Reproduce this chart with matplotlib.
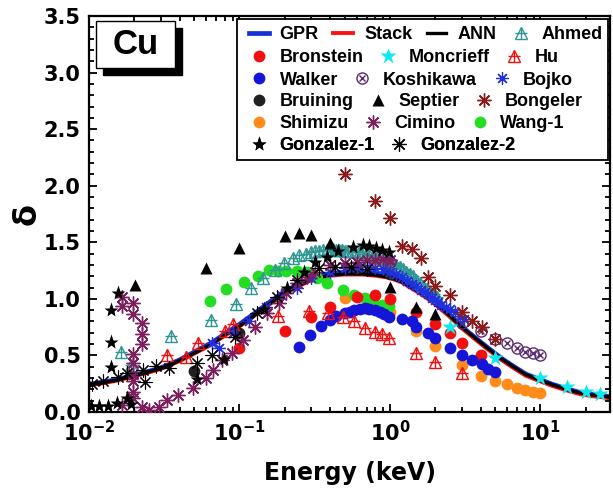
import matplotlib
matplotlib.use("Agg")
import matplotlib.pyplot as plt
from matplotlib.patches import Rectangle
from matplotlib.ticker import FixedLocator, FixedFormatter, MultipleLocator, LogLocator, NullFormatter

plt.rcParams['font.family'] = ['Liberation Sans', 'DejaVu Sans']
plt.rcParams['font.weight'] = 'bold'
plt.rcParams['mathtext.fontset'] = 'dejavusans'
plt.rcParams['mathtext.default'] = 'bf'

# model curves (energy in keV, SEY)
model_E = [0.01, 0.0125, 0.015, 0.02, 0.025, 0.03, 0.04, 0.05, 0.065, 0.08, 0.1, 0.13, 0.16,
           0.2, 0.25, 0.3, 0.4, 0.5, 0.65, 0.8, 1.0, 1.2, 1.4, 1.7, 2.0, 2.5, 3.0, 3.7, 4.4,
           5.5, 6.6, 8.0, 10, 12, 15, 18, 22, 26, 29]
ann_d = [0.24, 0.26, 0.28, 0.32, 0.355, 0.385, 0.455, 0.52, 0.60, 0.68, 0.76, 0.87, 0.96,
         1.05, 1.12, 1.17, 1.21, 1.22, 1.22, 1.21, 1.19, 1.15, 1.10, 1.03, 0.96, 0.85, 0.75,
         0.65, 0.57, 0.47, 0.40, 0.33, 0.28, 0.24, 0.20, 0.17, 0.15, 0.14, 0.13]
gpr_d = [0.245, 0.265, 0.285, 0.325, 0.36, 0.39, 0.46, 0.53, 0.61, 0.69, 0.775, 0.885, 0.975,
         1.065, 1.135, 1.185, 1.225, 1.235, 1.235, 1.225, 1.205, 1.165, 1.115, 1.04, 0.97,
         0.86, 0.755, 0.655, 0.575, 0.475, 0.405, 0.335, 0.285, 0.245, 0.205, 0.175, 0.155,
         0.145, 0.135]
stack_d = [0.235, 0.255, 0.275, 0.315, 0.35, 0.38, 0.45, 0.515, 0.595, 0.675, 0.755, 0.865,
           0.955, 1.045, 1.115, 1.165, 1.205, 1.215, 1.215, 1.205, 1.185, 1.145, 1.09, 1.02,
           0.95, 0.84, 0.74, 0.64, 0.56, 0.46, 0.39, 0.32, 0.27, 0.23, 0.19, 0.16, 0.14,
           0.13, 0.12]

# experimental data
ahmed_E = [0.0163, 0.019, 0.035, 0.0645, 0.0946, 0.119, 0.143, 0.171, 0.197, 0.226, 0.25,
           0.275, 0.30, 0.32, 0.34, 0.36, 0.38, 0.40, 0.42, 0.44, 0.46, 0.48, 0.50, 0.53,
           0.56, 0.59, 0.62, 0.65, 0.69, 0.73, 0.77, 0.81, 0.85, 0.90, 0.95, 1.0, 1.05, 1.1,
           1.16, 1.22, 1.28, 1.35, 1.42, 1.5, 1.58, 1.66, 1.75, 1.85, 1.95, 2.05]
ahmed_d = [0.53, 0.415, 0.67, 0.81, 0.955, 1.10, 1.18, 1.255, 1.32, 1.36, 1.39,
           1.40, 1.41, 1.42, 1.42, 1.43, 1.43, 1.43, 1.44, 1.43, 1.43, 1.43, 1.42, 1.42,
           1.42, 1.41, 1.41, 1.40, 1.40, 1.39, 1.38, 1.37, 1.36, 1.35, 1.34, 1.33, 1.32, 1.30,
           1.28, 1.26, 1.24, 1.22, 1.20, 1.17, 1.14, 1.11, 1.09, 1.06, 1.04, 1.02]

bronstein_E = [0.1, 0.2, 0.3, 0.4, 0.6, 0.8, 1.0, 1.5, 2.0, 2.5, 3.0, 4.0]
bronstein_d = [0.57, 0.72, 0.84, 0.93, 1.02, 1.03, 1.00, 0.88, 0.78, 0.70, 0.61, 0.50]

moncrieff_E = [2.5, 5, 10, 15, 20, 25]
moncrieff_d = [0.75, 0.48, 0.30, 0.22, 0.175, 0.16]

hu_E = [0.033, 0.044, 0.053, 0.080, 0.090, 0.18, 0.29, 0.39, 0.49, 0.58, 0.68, 0.79,
        0.89, 0.99, 1.5, 2.0, 3.0]
hu_d = [0.50, 0.49, 0.61, 0.72, 0.78, 0.85, 0.89, 0.875, 0.84, 0.80, 0.74, 0.71,
        0.69, 0.65, 0.52, 0.44, 0.345]

walker_E = [0.25, 0.295, 0.35, 0.40, 0.44, 0.50, 0.54, 0.58, 0.63, 0.68, 0.73, 0.79, 0.86,
            0.92, 0.99, 1.2, 1.4, 1.5, 1.8, 2.0, 2.5, 3.0, 3.5, 4.1, 4.5, 5.0]
walker_d = [0.575, 0.68, 0.76, 0.81, 0.85, 0.875, 0.88, 0.90, 0.91, 0.92, 0.91, 0.90, 0.885,
            0.87, 0.84, 0.82, 0.80, 0.75, 0.70, 0.65, 0.57, 0.50, 0.46, 0.42, 0.38, 0.35]

koshikawa_E = [1.0, 3.0, 4.0, 5.0, 6.0, 7.0, 7.9, 8.9, 9.9]
koshikawa_d = [1.33, 0.79, 0.715, 0.645, 0.61, 0.565, 0.53, 0.52, 0.50]

bojko_E = [0.066, 0.073, 0.09, 0.115, 0.15, 0.19, 0.24, 0.3, 0.4, 0.5, 0.6, 0.7, 0.8, 0.9,
           1.0, 1.1, 1.2, 1.3, 1.4, 1.5, 1.6, 1.7, 1.8, 1.9, 2.0, 2.1, 2.2, 2.35, 2.5, 2.7,
           2.9, 3.1]
bojko_d = [0.61, 0.565, 0.70, 0.80, 0.93, 1.03, 1.10, 1.18, 1.24, 1.27, 1.28, 1.28, 1.27,
           1.26, 1.24, 1.22, 1.19, 1.16, 1.13, 1.11, 1.08, 1.06, 1.04, 1.01, 0.99, 0.97,
           0.95, 0.93, 0.91, 0.88, 0.85, 0.82]

bruining_E = [0.05, 0.1, 0.3, 0.6, 1.0]
bruining_d = [0.36, 0.70, 1.22, 1.27, 1.22]

septier_E = [0.0202, 0.06, 0.10, 0.20, 0.247, 0.30, 0.40, 1.0, 1.5, 2.0]
septier_d = [1.12, 1.27, 1.45, 1.555, 1.58, 1.565, 1.49, 1.105, 0.93, 0.87]

bongeler_E = [0.5, 0.8, 1.0, 1.2, 1.4, 1.6, 1.8, 2.0, 2.5, 3.0, 3.5, 4.1, 5.0]
bongeler_d = [2.10, 1.865, 1.715, 1.47, 1.44, 1.36, 1.19, 1.11, 1.03, 0.885, 0.80, 0.75, 0.645]

shimizu_E = [0.5, 1.0, 1.5, 2.0, 3.0, 4.0, 5.0, 6.0, 7.0, 7.9, 8.9, 9.9]
shimizu_d = [1.01, 0.885, 0.72, 0.58, 0.415, 0.32, 0.27, 0.245, 0.21, 0.195, 0.18, 0.165]

cimino_E = [0.0165, 0.0165, 0.0196, 0.0196, 0.0225, 0.0225, 0.0225, 0.0196, 0.0196, 0.0196,
            0.0196, 0.0196, 0.0196, 0.0165, 0.0225, 0.025, 0.029, 0.033, 0.039, 0.049,
            0.060, 0.067, 0.077, 0.089, 0.105, 0.126, 0.152, 0.182, 0.205, 0.24, 0.28,
            0.32, 0.40, 0.5, 0.6, 0.7, 0.8, 0.9, 1.0]
cimino_d = [1.02, 0.94, 0.96, 0.87, 0.79, 0.69, 0.60, 0.51, 0.43, 0.34,
            0.27, 0.18, 0.12, 0.06, 0.045, 0.02, 0.045, 0.105, 0.15, 0.21,
            0.30, 0.37, 0.46, 0.52, 0.64, 0.75, 0.875, 0.96, 1.05, 1.14, 1.19,
            1.24, 1.30, 1.32, 1.33, 1.34, 1.34, 1.35, 1.34]

wang_E = [0.064, 0.081, 0.107, 0.133, 0.158, 0.18, 0.205, 0.24, 0.28, 0.33, 0.38, 0.49,
          0.58, 0.68, 0.77, 0.88, 0.98]
wang_d = [0.98, 1.09, 1.15, 1.20, 1.255, 1.25, 1.25, 1.25, 1.24, 1.18, 1.14, 1.08,
          1.03, 1.01, 0.97, 0.95, 0.94]

gonz1_E = [0.0103, 0.0116, 0.0134, 0.0153, 0.0179, 0.019, 0.014, 0.014, 0.014, 0.0157,
           0.052, 0.079, 0.145, 0.206, 0.27, 0.32, 0.38, 0.45, 0.57, 0.66, 0.73, 0.81,
           0.89, 0.98]
gonz1_d = [0.05, 0.05, 0.05, 0.08, 0.125, 0.07, 0.40, 0.62, 0.90, 1.05,
           0.29, 0.47, 0.91, 1.10, 1.24, 1.325, 1.37, 1.42, 1.46, 1.475, 1.47, 1.45,
           1.43, 1.41]

gonz2_E = [0.0105, 0.0124, 0.0156, 0.018, 0.0228, 0.028, 0.034, 0.0236, 0.052, 0.066,
           0.093, 0.13, 0.177, 0.24, 0.34, 0.43, 0.55, 0.7]
gonz2_d = [0.25, 0.27, 0.31, 0.345, 0.37, 0.41, 0.39, 0.265, 0.43, 0.50,
           0.66, 0.875, 1.02, 1.17, 1.27, 1.28, 1.28, 1.26]

xtick_vals = [0.01, 0.1, 1, 10]
xtick_text = [r'$10^{-2}$', r'$10^{-1}$', r'$10^{0}$', r'$10^{1}$']

fig = plt.figure(figsize=(6.13, 4.92), dpi=100)
ax = fig.add_axes([0.1452, 0.1626, 0.8499, 0.8049])

# model lines
h_gpr, = ax.plot(model_E, gpr_d, color='#1530d8', lw=3.4, zorder=2)
h_stack, = ax.plot(model_E, stack_d, color='#ff1010', lw=2.8, zorder=2.1)
h_ann, = ax.plot(model_E, ann_d, color='black', lw=2.4, zorder=2.2)

ball = dict(ls='none', marker='o', ms=8.5, mec='none', zorder=3)
star8 = (8, 2, 0)

h_bruining, = ax.plot(bruining_E, bruining_d, color='#202020', **ball)
h_shimizu, = ax.plot(shimizu_E, shimizu_d, color='#ff8c1a', **ball)
h_wang, = ax.plot(wang_E, wang_d, color='#22dd22', **ball)
h_bronstein, = ax.plot(bronstein_E, bronstein_d, color='#f01010', **ball)
h_walker, = ax.plot(walker_E, walker_d, color='#1515d8', **ball)

a1, = ax.plot(ahmed_E, ahmed_d, ls='none', marker='^', ms=9, mfc='none', mec='#2f9595', mew=1.0, zorder=3)
a2, = ax.plot(ahmed_E, ahmed_d, ls='none', marker='+', ms=9, color='#2f9595', mew=1.0, zorder=3)
h1, = ax.plot(hu_E, hu_d, ls='none', marker='^', ms=9, mfc='none', mec='#f01010', mew=1.0, zorder=3)
h2, = ax.plot(hu_E, hu_d, ls='none', marker='+', ms=9, color='#f01010', mew=1.0, zorder=3)
k1, = ax.plot(koshikawa_E, koshikawa_d, ls='none', marker='o', ms=8, mfc='none', mec='#5a2a70', mew=1.0, zorder=3)
k2, = ax.plot(koshikawa_E, koshikawa_d, ls='none', marker='x', ms=5, color='#5a2a70', mew=1.0, zorder=3)

h_bojko, = ax.plot(bojko_E, bojko_d, ls='none', marker=star8, ms=9, color='#2030e0', mew=0.9, zorder=3)
h_bongeler, = ax.plot(bongeler_E, bongeler_d, ls='none', marker=star8, ms=10, color='#8b1a1a', mew=1.0, zorder=3)
h_cimino, = ax.plot(cimino_E, cimino_d, ls='none', marker=star8, ms=10, color='#7d1f5e', mew=1.0, zorder=3)
h_gonz2, = ax.plot(gonz2_E, gonz2_d, ls='none', marker=star8, ms=10, color='black', mew=0.8, zorder=3)
h_septier, = ax.plot(septier_E, septier_d, ls='none', marker='^', ms=9, color='black', mec='none', zorder=3)
h_gonz1, = ax.plot(gonz1_E, gonz1_d, ls='none', marker='*', ms=11, color='black', mec='none', zorder=3)
h_moncrieff, = ax.plot(moncrieff_E, moncrieff_d, ls='none', marker='*', ms=12, color='#10e8f0', mec='none', zorder=3)

# axes
ax.set_xscale('log')
ax.set_xlim(0.01, 29)
ax.set_ylim(0, 3.5)
ax.xaxis.set_major_locator(FixedLocator(xtick_vals))
ax.xaxis.set_major_formatter(FixedFormatter(xtick_text))
ax.xaxis.set_minor_locator(LogLocator(base=10, subs=range(2, 10), numticks=20))
ax.xaxis.set_minor_formatter(NullFormatter())
ax.yaxis.set_major_locator(MultipleLocator(0.5))
ax.yaxis.set_minor_locator(MultipleLocator(0.1))
ax.yaxis.set_major_formatter(plt.FuncFormatter(lambda v, p: f'{v:.1f}'))
ax.tick_params(which='both', direction='in', top=True, right=True, width=1.3)
ax.tick_params(which='major', length=6, pad=6)
ax.tick_params(which='minor', length=3.5)
for lab in ax.get_xticklabels() + ax.get_yticklabels():
    lab.set_fontfamily('DejaVu Sans')
    lab.set_fontweight('bold')
    lab.set_fontsize(15)
for s in ax.spines.values():
    s.set_linewidth(1.6)

ax.set_xlabel('Energy (keV)', fontsize=17, fontweight='bold', family='DejaVu Sans', labelpad=11)
ax.set_ylabel('δ', fontsize=23, fontweight='bold', family='DejaVu Sans', labelpad=1)

# legend: frame + one legend per row
ax.add_patch(Rectangle((0.284, 0.636), 0.712, 0.356, transform=ax.transAxes,
                       facecolor='white', edgecolor='black', lw=1.3, zorder=6))
rows = [
    [(h_gpr, 'GPR'), (h_stack, 'Stack'), (h_ann, 'ANN'), ((a1, a2), 'Ahmed')],
    [(h_bronstein, 'Bronstein'), (h_moncrieff, 'Moncrieff'), ((h1, h2), 'Hu')],
    [(h_walker, 'Walker'), ((k1, k2), 'Koshikawa'), (h_bojko, 'Bojko')],
    [(h_bruining, 'Bruining'), (h_septier, 'Septier'), (h_bongeler, 'Bongeler')],
    [(h_shimizu, 'Shimizu'), (h_cimino, 'Cimino'), (h_wang, 'Wang-1')],
    [(h_gonz1, 'Gonzalez-1'), (h_gonz2, 'Gonzalez-2')],
]
row_y = [0.952, 0.894, 0.838, 0.783, 0.728, 0.672]
for items, yy in zip(rows, row_y):
    lg = ax.legend([h for h, _ in items], [t for _, t in items], ncol=len(items),
                   loc='center left', bbox_to_anchor=(0.307, yy), frameon=False,
                   prop={'size': 13, 'weight': 'bold'}, handlelength=1.1,
                   handletextpad=0.6, columnspacing=0.8, borderpad=0, borderaxespad=0)
    lg.set_zorder(7)
    ax.add_artist(lg)

# "Cu" label box with shadow
ax.add_patch(Rectangle((0.026, 0.851), 0.152, 0.118, transform=ax.transAxes,
                       facecolor='black', edgecolor='black', zorder=6))
ax.add_patch(Rectangle((0.0134, 0.869), 0.152, 0.118, transform=ax.transAxes,
                       facecolor='white', edgecolor='black', lw=1.0, zorder=7))
ax.text(0.0894, 0.928, 'Cu', transform=ax.transAxes, fontsize=25, fontweight='bold',
        ha='center', va='center', zorder=8)

fig.savefig('out.png', dpi=100)
